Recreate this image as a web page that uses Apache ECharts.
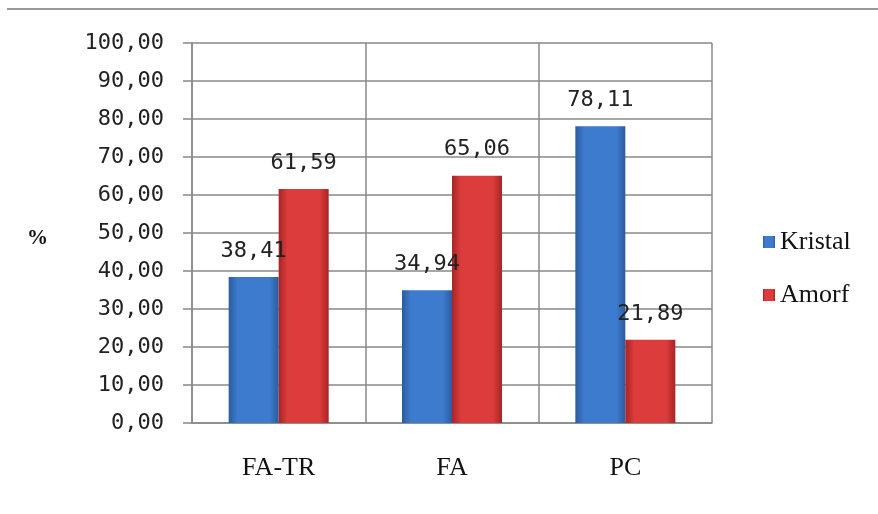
<!DOCTYPE html>
<html>
<head>
<meta charset="utf-8">
<script src="https://cdn.jsdelivr.net/npm/echarts@6/dist/echarts.min.js"></script>
<style>
  html, body { margin: 0; padding: 0; background: #fff; }
  #chart { width: 878px; height: 514px; }
</style>
</head>
<body>
<div id="chart"></div>
<script>
// Sample groups along the x axis
const categories = ['FA-TR', 'FA', 'PC'];
// Crystalline and amorphous fractions (%)
const kristal = [38.41, 34.94, 78.11];
const amorf = [61.59, 65.06, 21.89];
const seriesNames = ['Kristal', 'Amorf'];
const yUnit = '%';

const fmt = v => v.toFixed(2).replace('.', ',');

function barGradient(edge, mid) {
  return new echarts.graphic.LinearGradient(0, 0, 1, 0, [
    { offset: 0, color: edge },
    { offset: 0.18, color: mid },
    { offset: 0.82, color: mid },
    { offset: 1, color: edge }
  ]);
}

const labelStyle = {
  show: true,
  position: 'top',
  distance: 15,
  color: '#222',
  fontFamily: 'DejaVu Sans Mono',
  fontSize: 22,
  formatter: p => fmt(p.value)
};

const chart = echarts.init(document.getElementById('chart'), null, { renderer: 'canvas' });
chart.setOption({
  backgroundColor: '#fff',
  animation: false,
  grid: { left: 192, right: 166, top: 43, bottom: 91 },
  legend: {
    orient: 'vertical',
    left: 758,
    top: 224,
    itemWidth: 12,
    itemHeight: 12,
    itemGap: 27,
    icon: 'rect',
    textStyle: { fontFamily: 'Liberation Serif', fontSize: 26, color: '#111' },
    data: seriesNames
  },
  xAxis: {
    type: 'category',
    data: categories,
    axisLine: { lineStyle: { color: '#888', width: 1.5 } },
    axisTick: { show: false },
    splitLine: { show: true, lineStyle: { color: '#888', width: 1.5 } },
    axisLabel: { margin: 32, fontFamily: 'Liberation Serif', fontSize: 26, color: '#111' }
  },
  yAxis: {
    type: 'value',
    min: 0,
    max: 100,
    interval: 10,
    axisLine: { show: true, lineStyle: { color: '#888', width: 1.5 } },
    axisTick: { show: true, inside: false, length: 9, lineStyle: { color: '#888', width: 1.5 } },
    splitLine: { show: true, lineStyle: { color: '#888', width: 1.5 } },
    axisLabel: {
      margin: 28,
      fontFamily: 'DejaVu Sans Mono',
      fontSize: 22,
      color: '#222',
      formatter: v => fmt(v)
    }
  },
  graphic: [
    { type: 'line', shape: { x1: 7, y1: 9, x2: 878, y2: 9 }, style: { stroke: '#999', lineWidth: 2 } },
    { type: 'text', left: 27, top: 228, style: { text: yUnit, font: 'bold 21px "Liberation Serif"', fill: '#111' } }
  ],
  series: [
    {
      name: seriesNames[0],
      type: 'bar',
      data: kristal,
      barWidth: 50,
      barGap: '0%',
      itemStyle: { color: barGradient('#2a5c9e', '#3d7bcf') },
      label: labelStyle
    },
    {
      name: seriesNames[1],
      type: 'bar',
      data: amorf,
      barWidth: 50,
      itemStyle: { color: barGradient('#a82424', '#dc3c3c') },
      label: labelStyle
    }
  ]
});
</script>
</body>
</html>
